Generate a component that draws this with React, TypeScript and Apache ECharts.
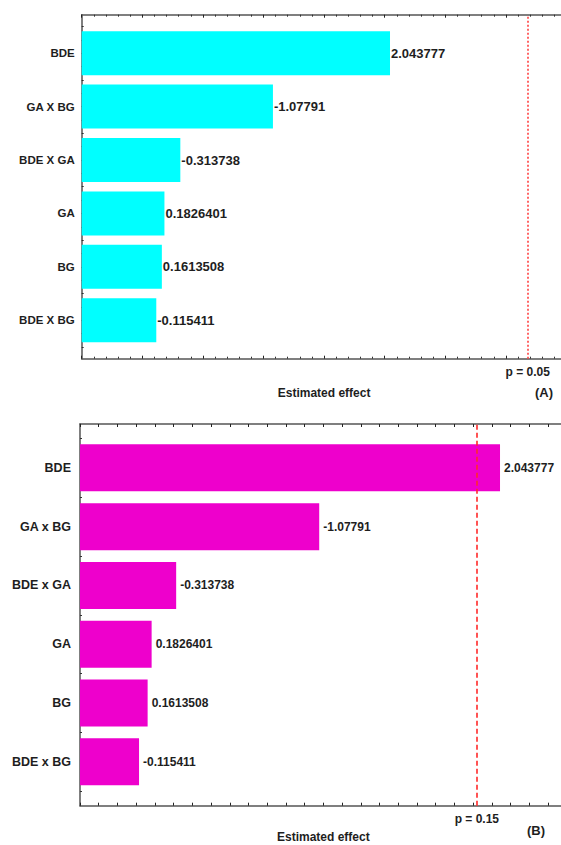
import React, { useEffect, useRef } from "react";
import * as echarts from "echarts";

const categoriesA = ["BDE", "GA X BG", "BDE X GA", "GA", "BG", "BDE X BG"];
const categoriesB = ["BDE", "GA x BG", "BDE x GA", "GA", "BG", "BDE x BG"];
const effects = [2.043777, -1.07791, -0.313738, 0.1826401, 0.1613508, -0.115411];

const critA = 3.182;
const pLabelA = "p = 0.05";
const critB = 1.922;
const pLabelB = "p = 0.15";

const axisA = { min: -0.5, max: 3.5, interval: 0.5 };
const axisB = { min: -0.2, max: 2.4, interval: 0.1 };

const FONT = "Liberation Sans, Arial, sans-serif";
const TXT = "#1e1e1e";
const AXC = "#555";

function frameX(gridIndex: number, ax: any, position: string, minor: boolean, name?: string, nameGap = 28) {
  return {
    type: "value",
    gridIndex,
    position,
    min: ax.min,
    max: ax.max,
    interval: ax.interval,
    name: name || "",
    nameLocation: "middle",
    nameGap,
    nameTextStyle: { fontFamily: FONT, fontWeight: "bold", fontSize: 12, color: TXT },
    axisLine: { show: true, onZero: false, lineStyle: { color: AXC, width: 1.5 } },
    axisTick: { show: true, inside: true, length: 3, lineStyle: { color: "#222", width: 1 } },
    minorTick: { show: minor, splitNumber: 5, length: 2, lineStyle: { color: "#333", width: 1 } },
    axisLabel: { show: false },
    splitLine: { show: false },
    minorSplitLine: { show: false },
  };
}

function barX(gridIndex: number, ax: any) {
  return {
    type: "value",
    gridIndex,
    min: ax.min,
    max: ax.max,
    startValue: ax.min,
    axisLine: { show: false },
    axisTick: { show: false },
    axisLabel: { show: false },
    splitLine: { show: false },
  };
}

function frameY(gridIndex: number) {
  return {
    type: "value",
    gridIndex,
    position: "left",
    min: 0,
    max: 1,
    axisLine: { show: true, onZero: false, lineStyle: { color: AXC, width: 1.5 } },
    axisTick: { show: false },
    axisLabel: { show: false },
    splitLine: { show: false },
  };
}

function catY(gridIndex: number, cats: string[], fontSize: number, margin: number) {
  return {
    type: "category",
    gridIndex,
    position: "left",
    inverse: true,
    data: cats,
    axisLine: { show: false },
    axisTick: { show: true, alignWithLabel: true, length: 3, lineStyle: { color: "#222" } },
    axisLabel: { fontFamily: FONT, fontWeight: "bold", fontSize, color: TXT, margin },
  };
}

function quarterY(gridIndex: number) {
  return {
    type: "value",
    gridIndex,
    position: "left",
    offset: 0,
    min: 0,
    max: 24,
    interval: 1,
    inverse: true,
    axisLine: { show: false },
    axisTick: { show: true, inside: true, length: 2, lineStyle: { color: "#333" } },
    axisLabel: { show: false },
    splitLine: { show: false },
  };
}

function critSeries(xAxisIndex: number, yAxisIndex: number, crit: number, label: string, dash: number[], color: string) {
  return {
    type: "line",
    xAxisIndex,
    yAxisIndex,
    data: [],
    silent: true,
    markLine: {
      silent: true,
      symbol: "none",
      animation: false,
      lineStyle: { color, type: dash, width: 1.6 },
      label: {
        show: true,
        position: "start",
        distance: 7,
        formatter: () => label,
        fontFamily: FONT,
        fontWeight: "bold",
        fontSize: 12,
        color: TXT,
      },
      data: [{ xAxis: crit }],
    },
  };
}

export default function App() {
  const ref = useRef<HTMLDivElement>(null);
  useEffect(() => {
    if (!ref.current) return;
    const chart = echarts.init(ref.current, undefined, { renderer: "svg" });
    const g = { outerBoundsMode: "none", containLabel: false };
    const option: any = {
      animation: false,
      backgroundColor: "#ffffff",
      grid: [
        { ...g, left: 81.7, width: 484.8, top: 14.7, height: 344 },
        { ...g, left: 81.7, width: 484.8, top: 26.5, height: 320.4 },
        { ...g, left: 80, width: 486.7, top: 424, height: 381.7 },
        { ...g, left: 80, width: 486.7, top: 438.45, height: 352.8 },
      ],
      xAxis: [
        frameX(0, axisA, "bottom", true, "Estimated effect", 28),
        frameX(0, axisA, "top", true),
        barX(1, axisA),
        frameX(2, axisB, "bottom", false, "Estimated effect", 25),
        frameX(2, axisB, "top", false),
        barX(3, axisB),
      ],
      yAxis: [
        frameY(0),
        catY(1, categoriesA, 11.5, 7),
        quarterY(1),
        frameY(2),
        catY(3, categoriesB, 12.5, 9),
        quarterY(3),
      ],
      series: [
        {
          type: "bar",
          xAxisIndex: 2,
          yAxisIndex: 1,
          barWidth: 44,
          data: effects.map((v) => Math.abs(v)),
          itemStyle: { color: "#00ffff" },
          label: {
            show: true,
            position: "right",
            distance: 1,
            formatter: (p: any) => String(effects[p.dataIndex]),
            fontFamily: FONT,
            fontWeight: "bold",
            fontSize: 13,
            color: TXT,
          },
        },
        critSeries(0, 0, critA, pLabelA, [2, 2], "#ff4040"),
        {
          type: "bar",
          xAxisIndex: 5,
          yAxisIndex: 4,
          barWidth: 47,
          data: effects.map((v) => Math.abs(v)),
          itemStyle: { color: "#ee00cc" },
          label: {
            show: true,
            position: "right",
            distance: 4,
            formatter: (p: any) => String(effects[p.dataIndex]),
            fontFamily: FONT,
            fontWeight: "bold",
            fontSize: 12,
            color: TXT,
          },
        },
        critSeries(3, 3, critB, pLabelB, [5, 3], "#ff2a2a"),
      ],
      graphic: [
        {
          type: "text",
          left: 535,
          top: 386,
          style: { text: "(A)", fontFamily: FONT, fontWeight: "bold", fontSize: 13, fill: TXT },
        },
        {
          type: "text",
          left: 527,
          top: 824,
          style: { text: "(B)", fontFamily: FONT, fontWeight: "bold", fontSize: 13, fill: TXT },
        },
      ],
    };
    chart.setOption(option);
    return () => chart.dispose();
  }, []);
  return (
    <div
      ref={ref}
      style={{ position: "absolute", left: 0, top: 0, width: 561, height: 845, background: "#fff" }}
    />
  );
}
